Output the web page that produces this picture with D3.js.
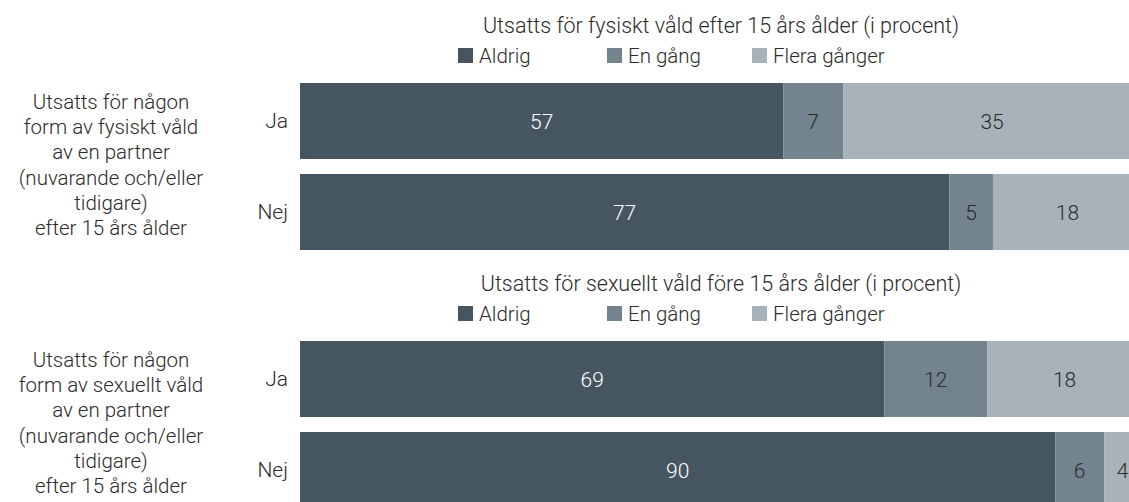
<!DOCTYPE html>
<html>
<head>
<meta charset="utf-8">
<script src="https://cdn.jsdelivr.net/npm/d3@7"></script>
<style>
  html, body { margin: 0; padding: 0; background: #fff; }
  svg { display: block; font-family: Roboto, "Open Sans", sans-serif; font-weight: 300; }
</style>
</head>
<body>
<svg id="chart" width="1129" height="502"></svg>
<script>
// ---- Data ----
const categories = ["Ja", "Nej"];
const seriesNames = ["Aldrig", "En gång", "Flera gånger"];
const panelTitles = [
  "Utsatts för fysiskt våld efter 15 års ålder (i procent)",
  "Utsatts för sexuellt våld före 15 års ålder (i procent)"
];
const rowLabels = [
  ["Utsatts för någon", "form av fysiskt våld", "av en partner", "(nuvarande och/eller", "tidigare)", "efter 15 års ålder"],
  ["Utsatts för någon", "form av sexuellt våld", "av en partner", "(nuvarande och/eller", "tidigare)", "efter 15 års ålder"]
];
// panel 1: fysiskt våld
const aldrig1 = [57.4, 77.1];
const enGang1 = [7.1, 5.2];
const fleraGanger1 = [35.4, 17.7];
// panel 2: sexuellt våld
const aldrig2 = [69.4, 89.7];
const enGang2 = [12.2, 5.8];
const fleraGanger2 = [18.4, 4.4];

const panels = [
  { title: panelTitles[0], label: rowLabels[0], values: [aldrig1, enGang1, fleraGanger1] },
  { title: panelTitles[1], label: rowLabels[1], values: [aldrig2, enGang2, fleraGanger2] }
];

// ---- Styles / layout ----
const colors = ["#465661", "#73848e", "#a7b2ba"];
const labelColors = ["#ffffff", "#2b2b2b", "#2b2b2b"];
const textColor = "#2b2b2b";
const panelOffset = 258;
const legendX = [458, 607, 752];

const svg = d3.select("#chart");
const x = d3.scaleLinear().domain([0, 100]).range([300, 1142]);
const fmt = d3.format(".0f");

panels.forEach((p, pi) => {
  const top = pi * panelOffset;
  const g = svg.append("g").attr("transform", `translate(0,${top})`);

  const y = d3.scaleBand().domain(categories).range([83, 250]).paddingInner(15 / 91).paddingOuter(0);

  // title
  g.append("text")
    .attr("x", 721).attr("y", 33)
    .attr("text-anchor", "middle")
    .attr("font-size", 21.5)
    .attr("fill", textColor)
    .text(p.title);

  // legend
  const lg = g.selectAll("g.legend").data(seriesNames).join("g")
    .attr("class", "legend")
    .attr("transform", (d, i) => `translate(${legendX[i]},48)`);
  lg.append("rect").attr("width", 15).attr("height", 15).attr("fill", (d, i) => colors[i]);
  lg.append("text").attr("x", 21).attr("y", 15)
    .attr("font-size", 20.5).attr("fill", textColor).text(d => d);

  // stacked data
  const rows = categories.map((c, ci) => {
    const o = { cat: c };
    seriesNames.forEach((s, si) => { o[s] = p.values[si][ci]; });
    return o;
  });
  const stack = d3.stack().keys(seriesNames)(rows);

  stack.forEach((layer, si) => {
    const lgL = g.append("g");
    lgL.selectAll("rect").data(layer).join("rect")
      .attr("x", d => x(d[0]))
      .attr("y", d => y(d.data.cat))
      .attr("width", d => x(d[1]) - x(d[0]))
      .attr("height", y.bandwidth())
      .attr("fill", colors[si]);
    lgL.selectAll("text").data(layer).join("text")
      .attr("x", d => (x(d[0]) + x(d[1])) / 2)
      .attr("y", d => y(d.data.cat) + y.bandwidth() / 2)
      .attr("dy", "0.36em")
      .attr("text-anchor", "middle")
      .attr("font-size", 21)
      .attr("fill", labelColors[si])
      .text(d => fmt(d[1] - d[0]));
  });

  // category axis
  const axis = d3.axisLeft(y).tickSize(0).tickPadding(12);
  const ax = g.append("g").attr("transform", "translate(300,0)").call(axis);
  ax.select(".domain").remove();
  ax.selectAll("text").attr("font-size", 21).attr("fill", textColor)
    .attr("font-family", "Roboto, sans-serif").attr("font-weight", 300);

  // left row label
  const lt = g.append("text")
    .attr("text-anchor", "middle")
    .attr("font-size", 20.5)
    .attr("fill", textColor);
  p.label.forEach((line, li) => {
    lt.append("tspan").attr("x", 111).attr("y", 109 + li * 25.2).text(line);
  });
});
</script>
</body>
</html>
